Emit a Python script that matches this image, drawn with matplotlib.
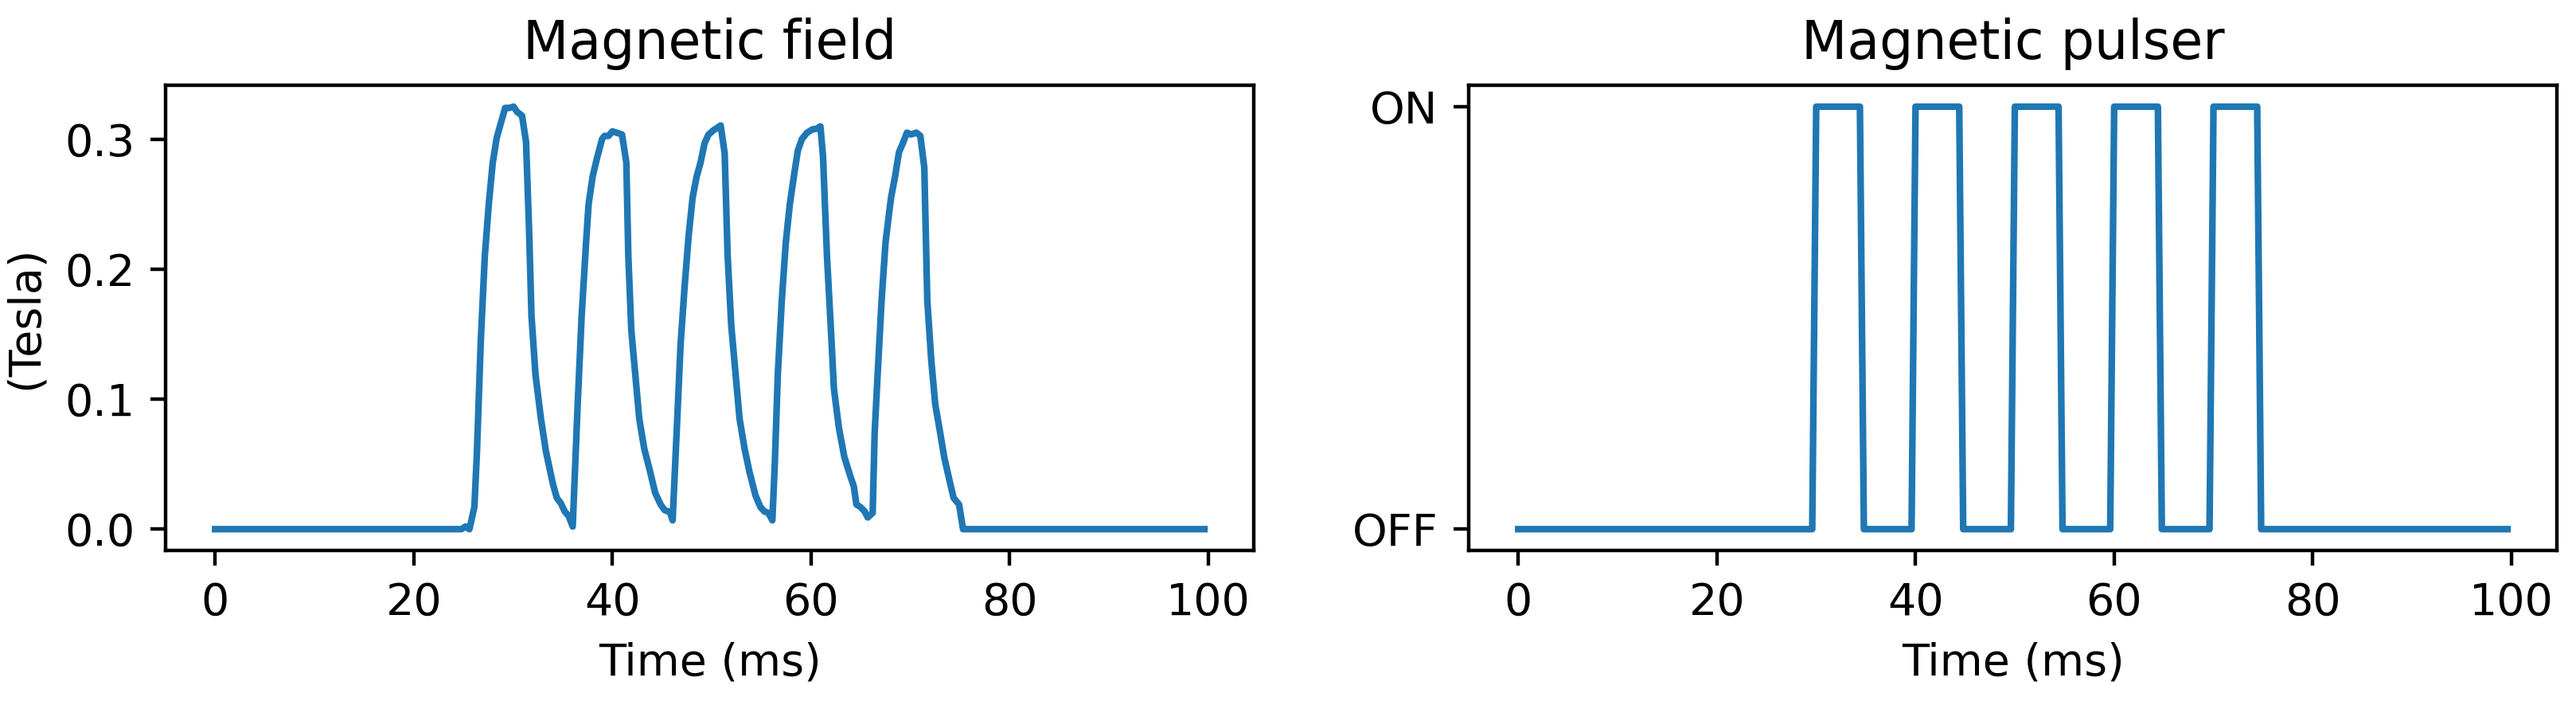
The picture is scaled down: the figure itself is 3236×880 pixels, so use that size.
import numpy as np
import matplotlib
matplotlib.use('Agg')
import matplotlib.pyplot as plt

# magnetic field (ms, Tesla)
field_t = [0, 24.8, 25.2, 25.6, 26.1, 26.35, 26.75, 27.15, 27.55, 27.95, 28.35, 28.75,
           29.2, 29.6, 30.05, 30.4, 30.9, 31.3, 31.6, 31.85, 32.25, 32.8, 33.3, 34.0,
           34.4, 34.8, 35.2, 35.6, 36.0,
           36.5, 36.9, 37.35, 37.6, 38.0, 38.4, 38.95, 39.2, 39.6, 40.0, 40.4, 40.96,
           41.4, 41.6, 41.9, 42.3, 42.7, 43.2, 43.8, 44.3, 44.85, 45.25, 45.8, 46.06,
           46.46, 46.86, 47.27, 47.67, 48.07, 48.47, 48.87, 49.28, 49.68, 50.2, 50.9,
           51.3, 51.6, 51.96, 52.4, 52.8, 53.3, 53.8, 54.4, 54.9, 55.3, 55.7, 56.1,
           56.35, 56.65, 57.05, 57.46, 57.86, 58.26, 58.66, 59.07, 59.6, 60.14, 60.54,
           60.94, 61.2, 61.6, 62.0, 62.3, 62.8, 63.35, 63.9, 64.3, 64.56, 64.97, 65.4,
           65.7, 66.2,
           66.4, 66.7, 67.1, 67.5, 68.05, 68.45, 68.85, 69.25, 69.65, 70.06, 70.6, 71.0,
           71.4, 71.7, 72.1, 72.5, 73.0, 73.4, 73.95, 74.35, 74.9, 75.3, 99.6]
field_b = [0, 0, 0.002, 0.0, 0.017, 0.058, 0.146, 0.21, 0.25, 0.282, 0.301, 0.312,
           0.324, 0.324, 0.325, 0.321, 0.318, 0.298, 0.232, 0.164, 0.119, 0.085, 0.060, 0.035,
           0.024, 0.020, 0.0136, 0.010, 0.002,
           0.096, 0.164, 0.221, 0.25, 0.271, 0.284, 0.300, 0.3025, 0.3025, 0.306, 0.305, 0.3036,
           0.282, 0.21, 0.153, 0.119, 0.085, 0.062, 0.044, 0.028, 0.019, 0.0147, 0.013, 0.0068,
           0.074, 0.142, 0.187, 0.2255, 0.255, 0.271, 0.282, 0.297, 0.3036, 0.307, 0.3105,
           0.289, 0.21, 0.157, 0.119, 0.085, 0.062, 0.044, 0.026, 0.017, 0.0136, 0.0125, 0.0068,
           0.051, 0.119, 0.176, 0.221, 0.25, 0.271, 0.291, 0.300, 0.305, 0.3075, 0.308,
           0.3098, 0.287, 0.21, 0.153, 0.108, 0.078, 0.0555, 0.042, 0.033, 0.019, 0.017, 0.0136,
           0.009, 0.0125,
           0.074, 0.119, 0.176, 0.221, 0.255, 0.271, 0.29, 0.297, 0.305, 0.3036, 0.305, 0.3025,
           0.278, 0.176, 0.130, 0.096, 0.074, 0.0555, 0.037, 0.024, 0.019, 0.0, 0.0]

# pulser state (0 = OFF, 1 = ON)
pulser_t = [0, 29.6, 30.0, 34.4, 34.8, 39.6, 40.0, 44.4, 44.8, 49.6, 50.0, 54.4, 54.8,
            59.6, 60.0, 64.4, 64.8, 69.6, 70.0, 74.4, 74.8, 99.6]
pulser_state = [0, 0, 1, 1, 0, 0, 1, 1, 0, 0, 1, 1, 0,
                0, 1, 1, 0, 0, 1, 1, 0, 0]
state_labels = ['OFF', 'ON']

fig, (ax1, ax2) = plt.subplots(1, 2, figsize=(3237 / 400, 880 / 400), dpi=400)
fig.subplots_adjust(left=0.0643, right=0.9923, bottom=0.215, top=0.878, wspace=0.1975)

ax1.plot(field_t, field_b)
ax1.set_title('Magnetic field')
ax1.set_xlabel('Time (ms)')
ax1.set_ylabel('(Tesla)')
ax1.set_xticks([0, 20, 40, 60, 80, 100])
ax1.set_yticks([0.0, 0.1, 0.2, 0.3])

ax2.plot(pulser_t, pulser_state)
ax2.set_title('Magnetic pulser')
ax2.set_xlabel('Time (ms)')
ax2.set_xticks([0, 20, 40, 60, 80, 100])
ax2.set_yticks([0, 1])
ax2.set_yticklabels(state_labels)

fig.savefig('out.png', dpi=400)
